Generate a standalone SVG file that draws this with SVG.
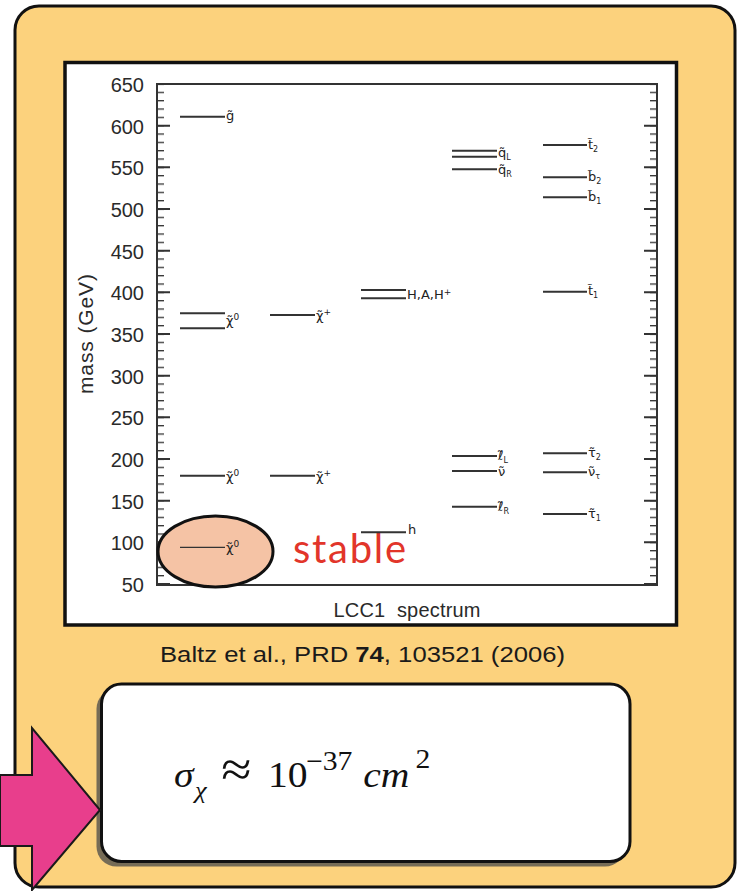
<svg xmlns="http://www.w3.org/2000/svg" width="737" height="891" viewBox="0 0 737 891">
<style>
.tick{font-family:"Liberation Sans",Arial,sans-serif;font-size:20px;fill:#2a2a2a;text-anchor:end}
.lvl{stroke:#333;stroke-width:2;fill:none}
.lab{font-family:"DejaVu Sans","Liberation Sans",sans-serif;font-size:13px;fill:#222}
.ax{stroke:#333;stroke-width:2;fill:none}
.mf{font-family:"Liberation Serif","Times New Roman",serif;fill:#111}
</style>
<defs>
<pattern id="mt" patternUnits="userSpaceOnUse" x="0" y="83.4" width="737" height="8.3333">
<rect x="0" y="0" width="737" height="1.3" fill="#333"/>
</pattern>
</defs>
<rect width="737" height="891" fill="#ffffff"/>
<g id="panel">
<rect x="15" y="6" width="720" height="881" rx="24" fill="#fcd27d" stroke="#111" stroke-width="3"/>
</g>
<g id="plot">
<rect x="65" y="62.5" width="611.5" height="562.5" fill="#ffffff" stroke="#111" stroke-width="3.5"/>
<path class="ax" d="M157 84H657V585H157Z"/>
<rect x="157" y="84" width="7" height="501" fill="url(#mt)"/>
<rect x="650" y="84" width="7" height="501" fill="url(#mt)"/>
<path class="ax" d="M157 84h13M157 125.67h13M157 167.33h13M157 209h13M157 250.67h13M157 292.33h13M157 334h13M157 375.67h13M157 417.33h13M157 459h13M157 500.67h13M157 542.33h13M157 584h13M657 84h-13M657 125.67h-13M657 167.33h-13M657 209h-13M657 250.67h-13M657 292.33h-13M657 334h-13M657 375.67h-13M657 417.33h-13M657 459h-13M657 500.67h-13M657 542.33h-13M657 584h-13"/>
<text class="tick" x="144" y="92">650</text>
<text class="tick" x="144" y="133.7">600</text>
<text class="tick" x="144" y="175.3">550</text>
<text class="tick" x="144" y="217">500</text>
<text class="tick" x="144" y="258.7">450</text>
<text class="tick" x="144" y="300.3">400</text>
<text class="tick" x="144" y="342">350</text>
<text class="tick" x="144" y="383.7">300</text>
<text class="tick" x="144" y="425.3">250</text>
<text class="tick" x="144" y="467">200</text>
<text class="tick" x="144" y="508.7">150</text>
<text class="tick" x="144" y="550.3">100</text>
<text class="tick" x="144" y="592">50</text>
<text x="93" y="334" transform="rotate(-90 93 334)" font-family="'Liberation Sans',Arial,sans-serif" font-size="21" fill="#2a2a2a" text-anchor="middle" textLength="120">mass (GeV)</text>
<text x="407" y="617" font-family="'Liberation Sans',Arial,sans-serif" font-size="20" fill="#2a2a2a" text-anchor="middle" textLength="147" xml:space="preserve">LCC1  spectrum</text>
</g>
<g id="stable-mark">
<ellipse cx="215.5" cy="551.5" rx="57.5" ry="35.5" fill="#f5c3a5" stroke="#111" stroke-width="3"/>
<text x="293" y="563" font-family="Lato,'Liberation Sans',sans-serif" font-size="40" fill="#e2352a" textLength="113">stable</text>
</g>
<g id="levels">
<path class="lvl" d="M180 116.7H225M180 313.3H225M180 328.3H225M180 475.7H225M270 315H315M270 475.7H315M361 290H406M361 298.3H406M361 532.3H406M452 150.7H497M452 156.7H497M452 169.3H497M452 456H497M452 471H497M452 506.7H497M543 145H587M543 177.3H587M543 197.3H587M543 291.7H587M543 453.3H587M543 472.3H587M543 514H587"/>
<path d="M180 547.3H225" stroke="#333" stroke-width="1.3"/>
<text class="lab" x="226" y="120">g̃</text>
<text class="lab" x="226" y="325">χ̃<tspan dy="-5" font-size="9">0</tspan></text>
<text class="lab" x="226" y="481">χ̃<tspan dy="-5" font-size="9">0</tspan></text>
<text class="lab" x="226" y="552">χ̃<tspan dy="-5" font-size="9">0</tspan></text>
<text class="lab" x="316" y="320">χ̃<tspan dy="-5" font-size="9">+</tspan></text>
<text class="lab" x="316" y="481">χ̃<tspan dy="-5" font-size="9">+</tspan></text>
<text class="lab" x="407" y="299" font-size="12">H,A,H<tspan dy="-4" font-size="9">+</tspan></text>
<text class="lab" x="408" y="534">h</text>
<text class="lab" x="498" y="157">q̃<tspan dy="3" font-size="8">L</tspan></text>
<text class="lab" x="498" y="174">q̃<tspan dy="3" font-size="8">R</tspan></text>
<text class="lab" x="498" y="460">ℓ̃<tspan dy="3" font-size="8">L</tspan></text>
<text class="lab" x="498" y="476">ν̃</text>
<text class="lab" x="498" y="511">ℓ̃<tspan dy="3" font-size="8">R</tspan></text>
<text class="lab" x="588" y="149">t̃<tspan dy="3" font-size="8">2</tspan></text>
<text class="lab" x="588" y="181">b̃<tspan dy="3" font-size="8">2</tspan></text>
<text class="lab" x="588" y="201">b̃<tspan dy="3" font-size="8">1</tspan></text>
<text class="lab" x="588" y="295">t̃<tspan dy="3" font-size="8">1</tspan></text>
<text class="lab" x="588" y="457">τ̃<tspan dy="3" font-size="8">2</tspan></text>
<text class="lab" x="588" y="476">ν̃<tspan dy="3" font-size="8">τ</tspan></text>
<text class="lab" x="588" y="518">τ̃<tspan dy="3" font-size="8">1</tspan></text>
</g>
<g id="caption">
<text x="160" y="662" font-family="'Liberation Sans',Arial,sans-serif" font-size="22" fill="#1a1a1a" textLength="405" lengthAdjust="spacingAndGlyphs">Baltz et al., PRD <tspan font-weight="bold">74</tspan>, 103521 (2006)</text>
</g>
<g id="formula-box">
<rect x="96.5" y="689" width="528.5" height="177.5" rx="20" fill="#4a4a4a" opacity="0.75"/>
<rect x="101.5" y="684" width="528.5" height="177.5" rx="20" fill="#ffffff" stroke="#111" stroke-width="3"/>
<g transform="translate(174 787) scale(1.1 1)">
<text class="mf" x="0" y="0" font-size="36" font-style="italic">σ</text>
<text class="mf" x="19" y="11" font-size="24" font-style="italic">χ</text>
<text class="mf" x="43" y="-1" font-size="50">≈</text>
<text class="mf" x="85.5" y="0" font-size="36">10</text>
<text class="mf" x="120" y="-17" font-size="27">−37</text>
<text class="mf" x="172" y="0" font-size="36" font-style="italic">cm</text>
<text class="mf" x="219.5" y="-19" font-size="27">2</text>
</g>
</g>
<g id="arrow">
<polygon points="0,775 32,775 32,728 100,810 32,890 32,846 0,846" fill="#e83e8c" stroke="#1a1a1a" stroke-width="2" stroke-linejoin="miter"/>
</g>
</svg>
